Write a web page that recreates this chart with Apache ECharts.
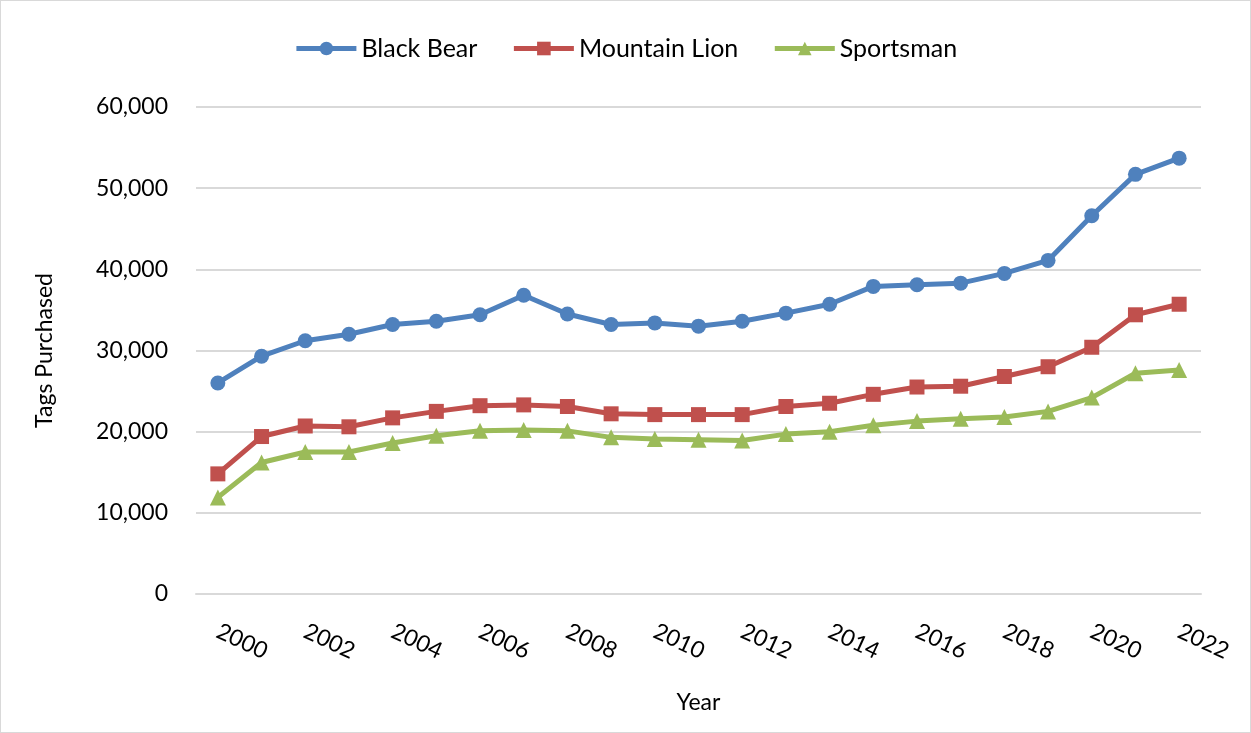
<!DOCTYPE html>
<html>
<head>
<meta charset="utf-8">
<script src="https://cdn.jsdelivr.net/npm/echarts@6/dist/echarts.min.js"></script>
<style>
  html, body { margin: 0; padding: 0; background: #fff; }
  #chart { width: 1251px; height: 733px; box-sizing: border-box; border: 1px solid #d9d9d9; }
</style>
</head>
<body>
<div id="chart"></div>
<script>
var years = ['2000','2001','2002','2003','2004','2005','2006','2007','2008','2009','2010','2011',
             '2012','2013','2014','2015','2016','2017','2018','2019','2020','2021','2022'];
var blackBear = [26000,29300,31200,32000,33200,33600,34400,36800,34500,33200,33400,33000,
                 33600,34600,35700,37900,38100,38300,39500,41100,46600,51700,53700];
var mountainLion = [14800,19400,20700,20600,21700,22500,23200,23300,23100,22200,22100,22100,
                    22100,23100,23500,24600,25500,25600,26800,28000,30400,34400,35700];
var sportsman = [11900,16200,17500,17500,18600,19500,20100,20200,20100,19300,19100,19000,
                 18900,19700,20000,20800,21300,21600,21800,22500,24200,27200,27600];

var myChart = echarts.init(document.getElementById('chart'));
var font = 'Lato, "Open Sans", sans-serif';

function lineSeries(name, data, symbol, size, color) {
    return {
        name: name,
        type: 'line',
        data: data,
        symbol: symbol,
        symbolSize: size,
        lineStyle: { width: 5, color: color },
        itemStyle: { color: color },
        emphasis: { disabled: true }
    };
}

option = {
    textStyle: { fontFamily: font },
    animation: false,
    legend: {
        top: 30,
        left: 'center',
        itemWidth: 60,
        itemHeight: 17,
        itemGap: 34,
        lineStyle: { width: 5 },
        textStyle: { fontSize: 25, color: '#000', fontFamily: font },
        data: ['Black Bear', 'Mountain Lion', 'Sportsman']
    },
    grid: { left: 195, right: 49, top: 106, bottom: 138 },
    xAxis: {
        type: 'category',
        data: years,
        boundaryGap: true,
        name: 'Year',
        nameLocation: 'middle',
        nameGap: 97,
        nameTextStyle: { fontSize: 23, color: '#000', fontFamily: font },
        axisLine: { lineStyle: { color: '#d9d9d9', width: 2 } },
        axisTick: { show: false },
        axisLabel: { interval: 1, rotate: -25, fontSize: 23, color: '#000', margin: 36, fontFamily: font }
    },
    yAxis: {
        type: 'value',
        min: 0,
        max: 60000,
        interval: 10000,
        name: 'Tags Purchased',
        nameLocation: 'middle',
        nameGap: 140,
        nameTextStyle: { fontSize: 23, color: '#000', fontFamily: font },
        axisLine: { show: false },
        axisTick: { show: false },
        axisLabel: {
            fontSize: 23, color: '#000', margin: 28, fontFamily: font,
            formatter: function (v) { return v.toLocaleString('en-US'); }
        },
        splitLine: { lineStyle: { color: '#d9d9d9', width: 2 } }
    },
    series: [
        lineSeries('Black Bear', blackBear, 'circle', 15, '#4f81bd'),
        lineSeries('Mountain Lion', mountainLion, 'rect', 15, '#c0504d'),
        lineSeries('Sportsman', sportsman, 'triangle', 16, '#9bbb59')
    ]
};

myChart.setOption(option);
</script>
</body>
</html>
